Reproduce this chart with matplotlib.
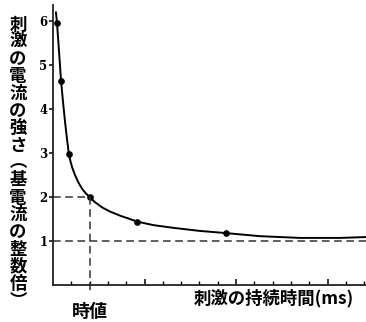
import numpy as np
import matplotlib
matplotlib.use("Agg")
import matplotlib.pyplot as plt

plt.rcParams['font.family'] = ['Noto Sans CJK JP', 'DejaVu Sans']

# curve (x: tick units, y: multiples of rheobase)
curve_x = [0.16, 0.22, 0.33, 0.44, 0.55, 0.66, 0.77, 0.87, 0.95, 1.05, 1.2, 1.4,
           1.6, 1.8, 2.02, 2.3, 2.7, 3.11, 3.7, 4.2, 4.6, 5.5, 6.56, 8.0, 9.45,
           11.3, 13.5, 15.7, 17.1]
curve_y = [6.2, 5.95, 5.3, 4.64, 4.15, 3.7, 3.3, 2.97, 2.82, 2.67, 2.5, 2.32,
           2.18, 2.08, 1.99, 1.88, 1.76, 1.67, 1.57, 1.5, 1.44, 1.36, 1.3, 1.23, 1.18,
           1.11, 1.07, 1.07, 1.09]

# measured points (dots)
point_x = [0.2, 0.44, 0.87, 2.02, 4.6, 9.45]
point_y = [5.95, 4.64, 2.97, 1.99, 1.44, 1.18]

chronaxie = 2.02
rheobase = 1.0
y_ticks = [1, 2, 3, 4, 5, 6]
ylabel_text = "刺激の電流の強さ︵基電流の整数倍︶"
xlabel_text = "刺激の持続時間(ms)"
chron_label = "時値"

fig = plt.figure(figsize=(3.66, 3.22), dpi=100)
ax = fig.add_axes([53 / 366, 37 / 322, 313 / 366, 280 / 322])
ax.set_xlim(0, 313 / 18.3)
ax.set_ylim(0, 280 / 44)

ax.plot(curve_x, curve_y, color='black', lw=1.4, solid_capstyle='round',
        solid_joinstyle='round')
ax.plot(point_x, point_y, 'o', color='black', ms=3.8)

dash = (0, (5, 3))
ax.plot([0, chronaxie], [2, 2], color='#333333', lw=1.1, linestyle=dash)
ax.plot([0, ax.get_xlim()[1]], [rheobase, rheobase], color='#333333', lw=1.1, linestyle=dash)
ax.plot([chronaxie, chronaxie], [2, -0.18], color='#333333', lw=1.1, linestyle=dash, clip_on=False)

for s in ['top', 'right']:
    ax.spines[s].set_visible(False)
for s in ['left', 'bottom']:
    ax.spines[s].set_linewidth(1.3)
    ax.spines[s].set_color('#222222')

ax.set_yticks(y_ticks)
ax.set_yticklabels([str(v) for v in y_ticks], fontsize=8.5, family='DejaVu Serif',
                   fontweight='bold')
ax.tick_params(axis='y', direction='out', length=3, width=1.1, pad=1)

ax.set_xticks(np.arange(5, 17, 5))
ax.set_xticks(np.arange(1, 18, 1), minor=True)
ax.set_xticklabels([])
ax.tick_params(axis='x', which='major', direction='in', length=4.5, width=1.1)
ax.tick_params(axis='x', which='minor', direction='in', length=3, width=1)

fig.text(18 / 366, 1 - 163 / 322, "\n".join(ylabel_text), fontsize=12.5,
         ha='center', va='center', linespacing=0.95, fontweight='bold')
fig.text(274 / 366, 1 - 298 / 322, xlabel_text, fontsize=12.5, ha='center',
         va='center', fontweight='bold')
fig.text(90 / 366, 1 - 311 / 322, chron_label, fontsize=13, ha='center', va='center',
         fontweight='bold')

fig.savefig("out.png", dpi=100)
